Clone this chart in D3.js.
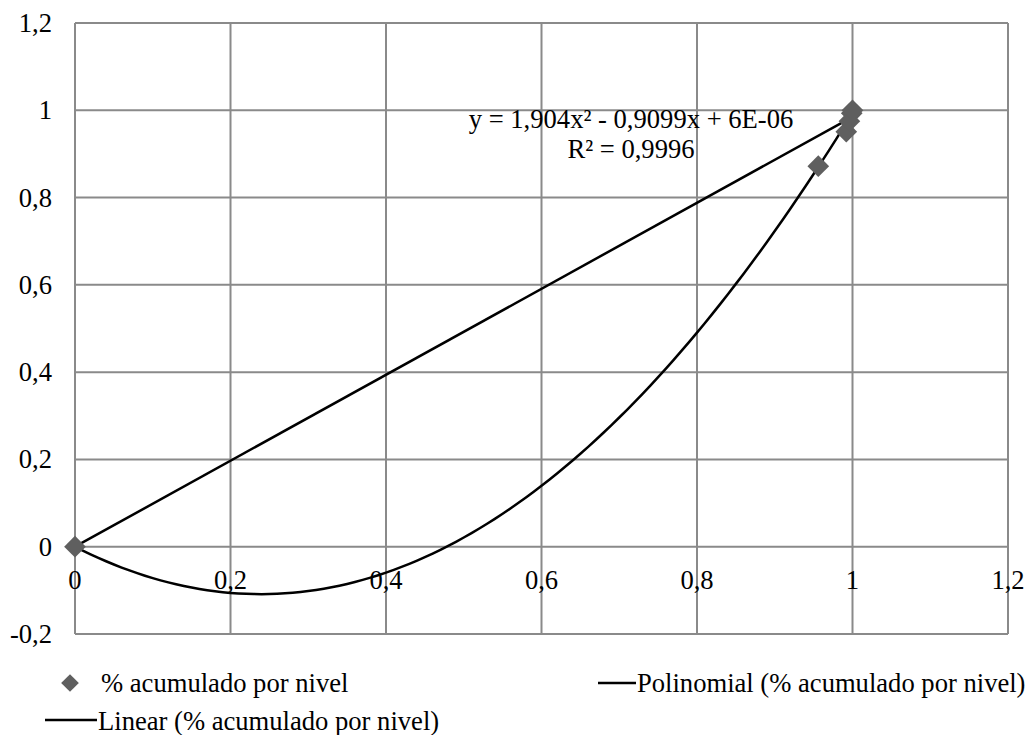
<!DOCTYPE html>
<html>
<head>
<meta charset="utf-8">
<script src="https://cdn.jsdelivr.net/npm/d3@7"></script>
<style>
  body { margin: 0; background: #fff; }
</style>
</head>
<body>
<svg id="chart" width="1035" height="735" font-family="'Liberation Serif', 'Times New Roman', Times, 'DejaVu Serif', serif"></svg>
<script>
// data
var pointsX = [0, 0.956, 0.992, 0.996, 0.999, 1.0];
var pointsY = [0, 0.872, 0.951, 0.975, 0.993, 1.0];
var polyCoef = [0.000006, -0.9099, 1.904];   // c0, c1, c2
var linCoef = [0.0, 0.985];                   // intercept, slope
var xTicks = [0, 0.2, 0.4, 0.6, 0.8, 1, 1.2];
var yTicks = [-0.2, 0, 0.2, 0.4, 0.6, 0.8, 1, 1.2];
var eqLines = ["y = 1,904x\u00B2 - 0,9099x + 6E-06", "R\u00B2 = 0,9996"];
var seriesName = "% acumulado por nivel";

var svg = d3.select("#chart");
var margin = {left: 75, right: 27, top: 23, bottom: 101};
var W = 1035, H = 735;
var fs = 26.6;

var x = d3.scaleLinear().domain([0, 1.2]).range([margin.left, W - margin.right]);
var y = d3.scaleLinear().domain([-0.2, 1.2]).range([H - margin.bottom, margin.top]);

var fmt = function(d){ return String(+d.toFixed(1)).replace(".", ","); };

// grid
var grid = svg.append("g").attr("stroke", "#8a8a8a").attr("stroke-width", 2);
grid.selectAll(".gx").data(xTicks).enter().append("line")
  .attr("x1", function(d){ return x(d) }).attr("x2", function(d){ return x(d) })
  .attr("y1", y(-0.2)).attr("y2", y(1.2));
grid.selectAll(".gy").data(yTicks).enter().append("line")
  .attr("y1", function(d){ return y(d) }).attr("y2", function(d){ return y(d) })
  .attr("x1", x(0)).attr("x2", x(1.2));

// y labels
svg.append("g").selectAll("text").data(yTicks).enter().append("text")
  .attr("x", 52).attr("y", function(d){ return y(d) + 9 })
  .attr("text-anchor", "end").attr("font-size", fs)
  .text(fmt);

// x labels sit under the zero line
svg.append("g").selectAll("text").data(xTicks).enter().append("text")
  .attr("x", function(d){ return x(d) }).attr("y", y(0) + 42)
  .attr("text-anchor", "middle").attr("font-size", fs)
  .text(fmt);

// trend lines
var polyFn = function(t){ return polyCoef[0] + polyCoef[1]*t + polyCoef[2]*t*t };
var linFn = function(t){ return linCoef[0] + linCoef[1]*t };
var xs = d3.range(0, 1.0001, 0.01);
var line = d3.line().x(function(d){ return x(d[0]) }).y(function(d){ return y(d[1]) });

svg.append("path")
  .attr("d", line(xs.map(function(t){ return [t, polyFn(t)] })))
  .attr("fill", "none").attr("stroke", "#000").attr("stroke-width", 2.5);
svg.append("path")
  .attr("d", line([[0, linFn(0)], [1, linFn(1)]]))
  .attr("fill", "none").attr("stroke", "#000").attr("stroke-width", 2.5);

// markers
var diamond = d3.symbol().type(d3.symbolDiamond2).size(300);
svg.append("g").selectAll("path").data(pointsX).enter().append("path")
  .attr("d", diamond)
  .attr("transform", function(d, i){ return "translate(" + x(d) + "," + y(pointsY[i]) + ")" })
  .attr("fill", "#5f5f5f");

// equation label
svg.append("g").selectAll("text").data(eqLines).enter().append("text")
  .attr("x", 631).attr("y", function(d, i){ return 128 + i*30 })
  .attr("text-anchor", "middle").attr("font-size", fs)
  .text(function(d){ return d });

// legend
var leg = svg.append("g").attr("font-size", fs);
leg.append("path").attr("d", d3.symbol().type(d3.symbolDiamond2).size(200))
  .attr("transform", "translate(70,683)").attr("fill", "#5f5f5f");
leg.append("text").attr("x", 101).attr("y", 692).text(seriesName);
leg.append("line").attr("x1", 598).attr("x2", 636).attr("y1", 683).attr("y2", 683)
  .attr("stroke", "#000").attr("stroke-width", 2.5);
leg.append("text").attr("x", 637).attr("y", 692).text("Polinomial (" + seriesName + ")");
leg.append("line").attr("x1", 45).attr("x2", 97).attr("y1", 720).attr("y2", 720)
  .attr("stroke", "#000").attr("stroke-width", 2.5);
leg.append("text").attr("x", 98).attr("y", 730).text("Linear (" + seriesName + ")");
</script>
</body>
</html>
